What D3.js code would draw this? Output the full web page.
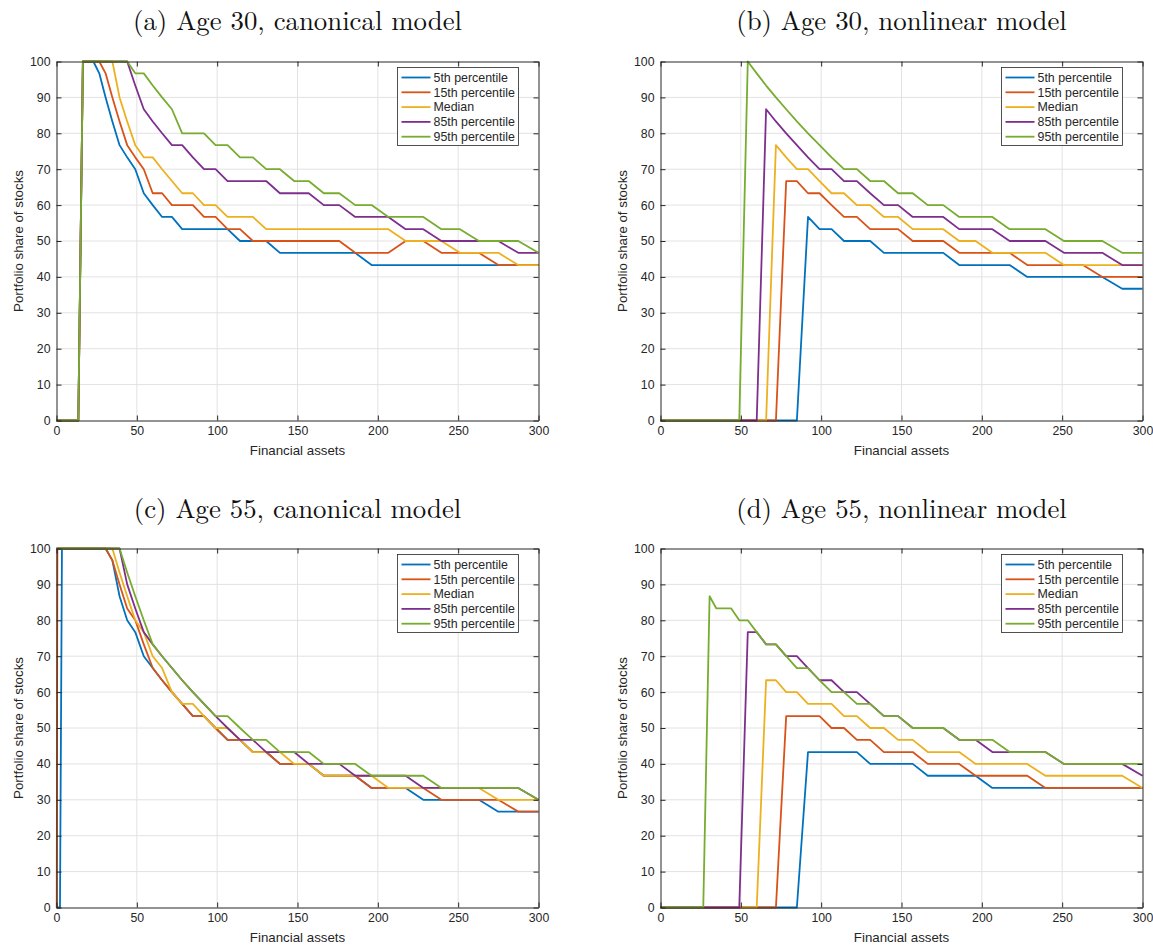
<!DOCTYPE html>
<html>
<head>
<meta charset="utf-8">
<script src="https://cdn.jsdelivr.net/npm/d3@7/dist/d3.min.js"></script>
<style>
  html, body { margin: 0; padding: 0; background: #fff; }
  svg { display: block; }
</style>
</head>
<body>
<svg id="chart" width="1153" height="946"></svg>
<script>
// Financial-assets grid (x values of every model point)
const gridX = [0, 0.14, 0.54, 1.22, 2.17, 3.40, 4.89, 6.65, 8.69, 11.00, 13.58, 16.43, 19.56, 22.95, 26.62, 30.56,
  34.77, 39.25, 44.00, 49.03, 54.32, 59.89, 65.73, 71.84, 78.23, 84.88, 91.81, 99.00, 106.47, 114.21, 122.23,
  130.51, 139.06, 147.89, 156.99, 166.36, 176.00, 185.92, 196.11, 206.56, 217.29, 228.29, 239.57, 251.11,
  262.93, 275.02, 287.38, 300.00];

const seriesNames = ["5th percentile", "15th percentile", "Median", "85th percentile", "95th percentile"];
const seriesColors = ["#0072BD", "#D95319", "#EDB120", "#7E2F8E", "#77AC30"];
const panelTitles = ["(a) Age 30, canonical model", "(b) Age 30, nonlinear model",
                     "(c) Age 55, canonical model", "(d) Age 55, nonlinear model"];
const xTicks = [0, 50, 100, 150, 200, 250, 300];
const yTicks = [0, 10, 20, 30, 40, 50, 60, 70, 80, 90, 100];
const xLabel = "Financial assets";
const yLabel = "Portfolio share of stocks";

// (a) Age 30, canonical
const a_p5  = [0,0,0,0,0,0,0,0,0,0,0, 100,100,100, 96.7,90,83.3,76.7,73.3,70,63.3,60,56.7,56.7,
  53.3,53.3,53.3,53.3,53.3, 50,50,50, 46.7,46.7,46.7,46.7,46.7,46.7, 43.3,43.3,43.3,43.3,43.3,43.3,43.3,43.3,43.3,43.3];
const a_p15 = [0,0,0,0,0,0,0,0,0,0,0, 100,100,100,100, 96.7,90,83.3,76.7,73.3,70,63.3,63.3,60,60,60,56.7,56.7,53.3,53.3,
  50,50,50,50,50,50,50, 46.7,46.7,46.7, 50,50, 46.7,46.7,46.7, 43.3,43.3,43.3];
const a_med = [0,0,0,0,0,0,0,0,0,0,0, 100,100,100,100,100,100, 90,83.3,76.7,73.3,73.3,70,66.7,63.3,63.3,60,60,
  56.7,56.7,56.7, 53.3,53.3,53.3,53.3,53.3,53.3,53.3,53.3,53.3, 50,50,50, 46.7,46.7,46.7, 43.3,43.3];
const a_p85 = [0,0,0,0,0,0,0,0,0,0,0, 100,100,100,100,100,100,100,100, 93.3,86.7,83.3,80,76.7,76.7,73.3,70,70,
  66.7,66.7,66.7,66.7, 63.3,63.3,63.3, 60,60, 56.7,56.7,56.7, 53.3,53.3, 50,50,50,50, 46.7,46.7];
const a_p95 = [0,0,0,0,0,0,0,0,0,0,0, 100,100,100,100,100,100,100,100, 96.7,96.7,93.3,90,86.7, 80,80,80, 76.7,76.7,
  73.3,73.3, 70,70, 66.7,66.7, 63.3,63.3, 60,60, 56.7,56.7,56.7, 53.3,53.3, 50,50,50, 46.7];

// (b) Age 30, nonlinear
const b_p5  = [0,0,0,0,0,0,0,0,0,0,0,0,0,0,0,0,0,0,0,0,0,0,0,0,0,0, 56.7, 53.3,53.3, 50,50,50,
  46.7,46.7,46.7,46.7,46.7, 43.3,43.3,43.3,43.3, 40,40,40,40,40, 36.7,36.7];
const b_p15 = [0,0,0,0,0,0,0,0,0,0,0,0,0,0,0,0,0,0,0,0,0,0,0,0, 66.7,66.7, 63.3,63.3, 60, 56.7,56.7, 53.3,53.3,53.3,
  50,50,50, 46.7,46.7,46.7,46.7, 43.3,43.3,43.3,43.3, 40,40,40];
const b_med = [0,0,0,0,0,0,0,0,0,0,0,0,0,0,0,0,0,0,0,0,0,0,0, 76.7, 73.3, 70,70, 66.7, 63.3,63.3, 60,60, 56.7,56.7,
  53.3,53.3,53.3, 50,50, 46.7,46.7,46.7,46.7, 43.3,43.3,43.3,43.3,43.3];
const b_p85 = [0,0,0,0,0,0,0,0,0,0,0,0,0,0,0,0,0,0,0,0,0,0, 86.7,83.3,80,76.7,73.3, 70,70, 66.7,66.7, 63.3, 60,60,
  56.7,56.7,56.7, 53.3,53.3,53.3, 50,50,50, 46.7,46.7,46.7, 43.3,43.3];
const b_p95 = [0,0,0,0,0,0,0,0,0,0,0,0,0,0,0,0,0,0,0,0, 100,96.7,93.3,90,86.7,83.3,80,76.7,73.3, 70,70, 66.7,66.7,
  63.3,63.3, 60,60, 56.7,56.7,56.7, 53.3,53.3,53.3, 50,50,50, 46.7,46.7];

// (c) Age 55, canonical
const c_p5  = [0,0,0,0,0, 100,100,100,100,100,100,100,100,100,100,100, 96.7,86.7,80,76.7,70,66.7,63.3,60,56.7,
  53.3,53.3, 50, 46.7,46.7, 43.3,43.3, 40,40,40, 36.7,36.7,36.7, 33.3,33.3,33.3, 30,30,30,30, 26.7,26.7,26.7];
const c_p15 = [0,0, 100,100,100,100,100,100,100,100,100,100,100,100,100,100, 96.7,90,83.3,80,73.3,66.7,63.3,60,56.7,
  53.3,53.3, 50, 46.7,46.7, 43.3,43.3, 40,40,40, 36.7,36.7,36.7, 33.3,33.3,33.3,33.3, 30,30,30,30, 26.7,26.7];
const c_med = [100, 100,100,100,100,100,100,100,100,100,100,100,100,100,100,100,100, 93.3,86.7,80,76.7,70,66.7,60,
  56.7,56.7, 53.3, 50,50, 46.7, 43.3,43.3,43.3, 40,40, 36.7,36.7,36.7,36.7, 33.3,33.3,33.3,33.3,33.3,33.3, 30,30,30];
const c_p85 = [100, 100,100,100,100,100,100,100,100,100,100,100,100,100,100,100,100,100, 90,83.3,76.7,73.3,70,66.7,
  63.3,60,56.7,53.3,50, 46.7,46.7, 43.3,43.3,43.3, 40,40,40, 36.7,36.7,36.7,36.7, 33.3,33.3,33.3,33.3,33.3,33.3, 30];
const c_p95 = [100, 100,100,100,100,100,100,100,100,100,100,100,100,100,100,100,100,100, 93.3,86.7,80,73.3,70,66.7,
  63.3,60,56.7, 53.3,53.3, 50, 46.7,46.7, 43.3,43.3,43.3, 40,40,40, 36.7,36.7,36.7,36.7, 33.3,33.3,33.3,33.3,33.3, 30];

// (d) Age 55, nonlinear
const d_p5  = [0,0,0,0,0,0,0,0,0,0,0,0,0,0,0,0,0,0,0,0,0,0,0,0,0,0, 43.3,43.3,43.3,43.3,43.3, 40,40,40,40,
  36.7,36.7,36.7,36.7, 33.3,33.3,33.3,33.3,33.3,33.3,33.3,33.3,33.3];
const d_p15 = [0,0,0,0,0,0,0,0,0,0,0,0,0,0,0,0,0,0,0,0,0,0,0,0, 53.3,53.3,53.3,53.3, 50,50, 46.7,46.7,
  43.3,43.3,43.3, 40,40,40, 36.7,36.7,36.7,36.7, 33.3,33.3,33.3,33.3,33.3,33.3];
const d_med = [0,0,0,0,0,0,0,0,0,0,0,0,0,0,0,0,0,0,0,0,0,0, 63.3,63.3, 60,60, 56.7,56.7,56.7, 53.3,53.3, 50,50,
  46.7,46.7, 43.3,43.3,43.3, 40,40,40,40, 36.7,36.7,36.7,36.7,36.7, 33.3];
const d_p85 = [0,0,0,0,0,0,0,0,0,0,0,0,0,0,0,0,0,0,0,0, 76.7,76.7, 73.3,73.3, 70,70, 66.7, 63.3,63.3, 60,60, 56.7,
  53.3,53.3, 50,50,50, 46.7,46.7, 43.3,43.3,43.3,43.3, 40,40,40,40, 36.7];
const d_p95 = [0,0,0,0,0,0,0,0,0,0,0,0,0,0,0, 86.7, 83.3,83.3,83.3, 80,80, 76.7, 73.3,73.3, 70, 66.7,66.7, 63.3,
  60,60, 56.7,56.7, 53.3,53.3, 50,50,50, 46.7,46.7,46.7, 43.3,43.3,43.3, 40,40,40,40,40];

const panelSeries = [
  [a_p5, a_p15, a_med, a_p85, a_p95],
  [b_p5, b_p15, b_med, b_p85, b_p95],
  [c_p5, c_p15, c_med, c_p85, c_p95],
  [d_p5, d_p15, d_med, d_p85, d_p95]
];

// ---- layout ----
const layout = [
  {x0: 56.5,  y0: 61.5,  titleY: 30},
  {x0: 660.5, y0: 61.5,  titleY: 30},
  {x0: 56.5,  y0: 548.5, titleY: 518},
  {x0: 660.5, y0: 548.5, titleY: 518}
];
const W = 482, H = 359;
const axisColor = "#262626";
const gridColor = "#e2e2e2";
const sans = "'Liberation Sans', Arial, Helvetica, sans-serif";
const serif = "'Latin Modern Roman', 'CMU Serif', 'Liberation Serif', 'DejaVu Serif', serif";

const svg = d3.select("#chart");

layout.forEach((L, pi) => {
  const g = svg.append("g").attr("transform", `translate(${L.x0},${L.y0})`);
  const x = d3.scaleLinear().domain([0, 300]).range([0, W]);
  const y = d3.scaleLinear().domain([0, 100]).range([H, 0]);

  // grid
  g.append("g").selectAll("line.gx").data(xTicks.slice(1, -1)).join("line")
    .attr("x1", d => x(d)).attr("x2", d => x(d)).attr("y1", 0).attr("y2", H)
    .attr("stroke", gridColor).attr("stroke-width", 1);
  g.append("g").selectAll("line.gy").data(yTicks.slice(1, -1)).join("line")
    .attr("y1", d => y(d)).attr("y2", d => y(d)).attr("x1", 0).attr("x2", W)
    .attr("stroke", gridColor).attr("stroke-width", 1);

  // series lines
  const line = d3.line().x((d, i) => x(gridX[i])).y(d => y(d));
  panelSeries[pi].forEach((vals, si) => {
    g.append("path").datum(vals)
      .attr("d", line)
      .attr("fill", "none")
      .attr("stroke", seriesColors[si])
      .attr("stroke-width", 1.8)
      .attr("stroke-linejoin", "round");
  });

  // axes (inward ticks, box)
  const tick = 5;
  const axB = d3.axisBottom(x).tickValues(xTicks).tickSizeInner(-tick).tickSizeOuter(0).tickPadding(6);
  const axT = d3.axisTop(x).tickValues(xTicks).tickSizeInner(-tick).tickSizeOuter(0).tickFormat("");
  const axL = d3.axisLeft(y).tickValues(yTicks).tickSizeInner(-tick).tickSizeOuter(0).tickPadding(6);
  const axR = d3.axisRight(y).tickValues(yTicks).tickSizeInner(-tick).tickSizeOuter(0).tickFormat("");

  const styleAxis = sel => {
    sel.selectAll("path").attr("stroke", axisColor).attr("stroke-width", 1);
    sel.selectAll("line").attr("stroke", axisColor).attr("stroke-width", 1);
    sel.selectAll("text").attr("fill", axisColor).attr("font-family", sans).attr("font-size", 12.3);
  };
  g.append("g").attr("transform", `translate(0,${H})`).call(axB).call(styleAxis)
    .selectAll("text").attr("dy", "0.71em");
  g.append("g").call(axT).call(styleAxis);
  g.append("g").call(axL).call(styleAxis);
  g.append("g").attr("transform", `translate(${W},0)`).call(axR).call(styleAxis);
  svg.selectAll(".domain").attr("fill", "none");

  // axis titles
  g.append("text").attr("x", W / 2).attr("y", H + 34)
    .attr("text-anchor", "middle").attr("font-family", sans).attr("font-size", 13.3)
    .attr("fill", axisColor).text(xLabel);
  g.append("text").attr("transform", `translate(${-34},${H / 2}) rotate(-90)`)
    .attr("text-anchor", "middle").attr("font-family", sans).attr("font-size", 13.3)
    .attr("fill", axisColor).text(yLabel);

  // panel title
  svg.append("text").attr("x", L.x0 + W / 2).attr("y", L.titleY)
    .attr("text-anchor", "middle").attr("font-family", serif).attr("font-size", 26.8)
    .attr("fill", "#111").text(panelTitles[pi]);

  // legend
  const lw = 121, lh = 78;
  const lg = g.append("g").attr("transform", `translate(${W - 20 - lw},6)`);
  lg.append("rect").attr("width", lw).attr("height", lh)
    .attr("fill", "#fff").attr("stroke", axisColor).attr("stroke-width", 0.8);
  seriesNames.forEach((nm, si) => {
    const yy = 10 + si * 14.8;
    lg.append("line").attr("x1", 4).attr("x2", 33).attr("y1", yy).attr("y2", yy)
      .attr("stroke", seriesColors[si]).attr("stroke-width", 1.8);
    lg.append("text").attr("x", 36).attr("y", yy).attr("dy", "0.35em")
      .attr("font-family", sans).attr("font-size", 12.4).attr("fill", axisColor).text(nm);
  });
});
</script>
</body>
</html>
